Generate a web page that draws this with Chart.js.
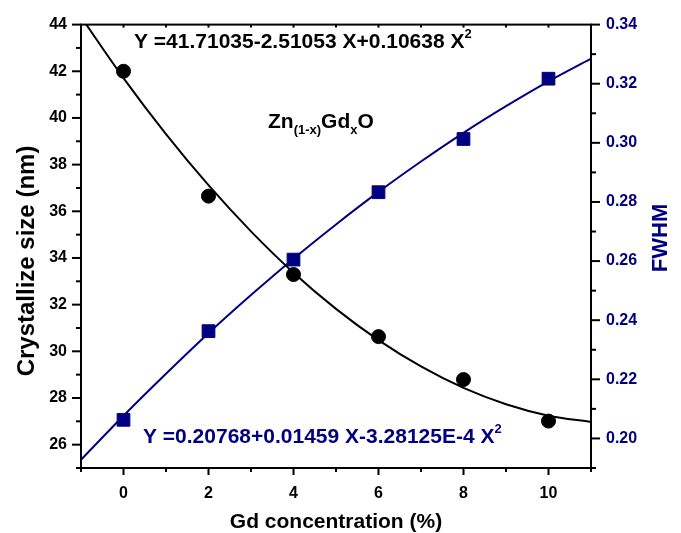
<!DOCTYPE html>
<html>
<head>
<meta charset="utf-8">
<script src="https://cdn.jsdelivr.net/npm/chart.js@4/dist/chart.umd.min.js"></script>
<style>
  html, body { margin: 0; padding: 0; background: #fff; }
  canvas { display: block; }
</style>
</head>
<body>
<canvas id="chart" width="681" height="533"></canvas>
<script>
// measured points
var gdConc = [0, 2, 4, 6, 8, 10];
var crystSize = [42.0, 36.65, 33.29, 30.63, 28.79, 27.01];
var fwhm = [0.2063, 0.2363, 0.2605, 0.2833, 0.3013, 0.3217];

// fitted curves
var fitX = [-1, 0, 1, 2, 3, 4, 5, 6, 7, 8, 9, 10, 11];
var sizeFit = [44.33, 41.71, 39.31, 37.12, 35.14, 33.37, 31.82, 30.48, 29.35, 28.43, 27.73, 27.24, 26.97];
var fwhmFit = [0.1928, 0.2077, 0.2219, 0.2356, 0.2485, 0.2608, 0.2724, 0.2834, 0.2937, 0.3034, 0.3124, 0.3208, 0.3285];

// axis ticks
var xTicks = [0, 2, 4, 6, 8, 10];
var xMinorTicks = [-1, 1, 3, 5, 7, 9, 11];
var sizeTicks = [26, 28, 30, 32, 34, 36, 38, 40, 42, 44];
var sizeMinorTicks = [25, 27, 29, 31, 33, 35, 37, 39, 41, 43];
var fwhmTicks = [0.20, 0.22, 0.24, 0.26, 0.28, 0.30, 0.32, 0.34];
var fwhmMinorTicks = [0.19, 0.21, 0.23, 0.25, 0.27, 0.29, 0.31, 0.33];

var navy = '#000080';
var fontFamily = '"Liberation Sans", Arial, sans-serif';

function pts(xs, ys) {
  return xs.map(function (x, i) { return { x: x, y: ys[i] }; });
}
function setTicks(list) {
  return function (scale) {
    scale.ticks = list.map(function (v) { return { value: v }; });
  };
}

// frame, tick marks and text annotations
var decorPlugin = {
  id: 'decor',
  afterDraw: function (chart) {
    var ctx = chart.ctx;
    var a = chart.chartArea;
    var sx = chart.scales.x, sy = chart.scales.y, sy1 = chart.scales.y1;
    ctx.save();
    ctx.strokeStyle = '#000';
    ctx.lineWidth = 2;
    ctx.strokeRect(a.left, a.top, a.right - a.left, a.bottom - a.top);

    function tick(x1, y1, x2, y2) {
      ctx.beginPath(); ctx.moveTo(x1, y1); ctx.lineTo(x2, y2); ctx.stroke();
    }
    xTicks.forEach(function (v) { var p = sx.getPixelForValue(v); tick(p, a.bottom, p, a.bottom + 7); tick(p, a.top, p, a.top + 3); });
    xMinorTicks.forEach(function (v) { var p = sx.getPixelForValue(v); tick(p, a.bottom, p, a.bottom + 4); tick(p, a.top, p, a.top + 3); });
    sizeTicks.forEach(function (v) { var p = sy.getPixelForValue(v); tick(a.left, p, a.left - 9, p); });
    sizeMinorTicks.forEach(function (v) { var p = sy.getPixelForValue(v); tick(a.left, p, a.left - 5, p); });
    fwhmTicks.forEach(function (v) { var p = sy1.getPixelForValue(v); tick(a.right, p, a.right + 9, p); });
    fwhmMinorTicks.forEach(function (v) { var p = sy1.getPixelForValue(v); tick(a.right, p, a.right + 5, p); });

    // rich text helper: parts = [[text, size, dy]]
    function rich(parts, x, y, color) {
      ctx.fillStyle = color;
      ctx.textAlign = 'left';
      ctx.textBaseline = 'alphabetic';
      parts.forEach(function (p) {
        ctx.font = 'bold ' + p[1] + 'px ' + fontFamily;
        ctx.fillText(p[0], x, y + p[2]);
        x += ctx.measureText(p[0]).width;
      });
    }
    rich([['Y =41.71035-2.51053 X+0.10638 X', 21, 0], ['2', 13, -10]], 134, 48, '#000');
    rich([['Y =0.20768+0.01459 X-3.28125E-4 X', 21, 0], ['2', 13, -10]], 143, 443, navy);
    rich([['Zn', 21, 0], ['(1-x)', 13, 6], ['Gd', 21, 0], ['x', 13, 6], ['O', 21, 0]], 268, 128, '#000');

    // axis titles
    ctx.textAlign = 'center';
    ctx.textBaseline = 'alphabetic';
    ctx.fillStyle = '#000';
    ctx.font = 'bold 21px ' + fontFamily;
    ctx.fillText('Gd concentration (%)', (a.left + a.right) / 2, 528);

    ctx.save();
    ctx.translate(34, 261);
    ctx.rotate(-Math.PI / 2);
    ctx.font = 'bold 24px ' + fontFamily;
    ctx.fillText('Crystallize size (nm)', 0, 0);
    ctx.restore();

    ctx.save();
    ctx.translate(667, 238);
    ctx.rotate(-Math.PI / 2);
    ctx.fillStyle = navy;
    ctx.font = 'bold 22px ' + fontFamily;
    ctx.fillText('FWHM', 0, 0);
    ctx.restore();

    ctx.restore();
  }
};

new Chart(document.getElementById('chart'), {
  type: 'scatter',
  data: {
    datasets: [
      {
        data: pts(gdConc, crystSize), yAxisID: 'y',
        pointStyle: 'circle', pointRadius: 7, pointBackgroundColor: '#000', pointBorderColor: '#000', pointBorderWidth: 1
      },
      {
        data: pts(gdConc, fwhm), yAxisID: 'y1',
        pointStyle: 'rect', pointRadius: 9, pointBackgroundColor: navy, pointBorderColor: navy, pointBorderWidth: 1
      },
      {
        data: pts(fitX, sizeFit), yAxisID: 'y', showLine: true, pointRadius: 0,
        borderColor: '#000', borderWidth: 2, cubicInterpolationMode: 'monotone'
      },
      {
        data: pts(fitX, fwhmFit), yAxisID: 'y1', showLine: true, pointRadius: 0,
        borderColor: navy, borderWidth: 2, cubicInterpolationMode: 'monotone'
      }
    ]
  },
  options: {
    responsive: false,
    animation: false,
    devicePixelRatio: 1,
    layout: { padding: { top: 16, left: 0, right: 0, bottom: 0 } },
    plugins: { legend: { display: false }, tooltip: { enabled: false } },
    scales: {
      x: {
        type: 'linear', position: 'bottom', min: -1, max: 11,
        afterBuildTicks: setTicks(xTicks),
        afterFit: function (s) { s.height = 65; },
        grid: { display: false, drawTicks: false },
        border: { display: false },
        ticks: { padding: 16, color: '#000', font: { family: fontFamily, size: 16, weight: 'bold' } }
      },
      y: {
        type: 'linear', position: 'left', min: 25, max: 44,
        afterBuildTicks: setTicks(sizeTicks),
        afterFit: function (s) { s.width = 81; },
        grid: { display: false, drawTicks: false },
        border: { display: false },
        ticks: { padding: 14, color: '#000', font: { family: fontFamily, size: 16, weight: 'bold' } }
      },
      y1: {
        type: 'linear', position: 'right', min: 0.19, max: 0.34,
        afterBuildTicks: setTicks(fwhmTicks),
        afterFit: function (s) { s.width = 90; },
        grid: { display: false, drawTicks: false },
        border: { display: false },
        ticks: {
          padding: 15, color: navy, font: { family: fontFamily, size: 16, weight: 'bold' },
          callback: function (v) { return v.toFixed(2); }
        }
      }
    }
  },
  plugins: [decorPlugin]
});
</script>
</body>
</html>
